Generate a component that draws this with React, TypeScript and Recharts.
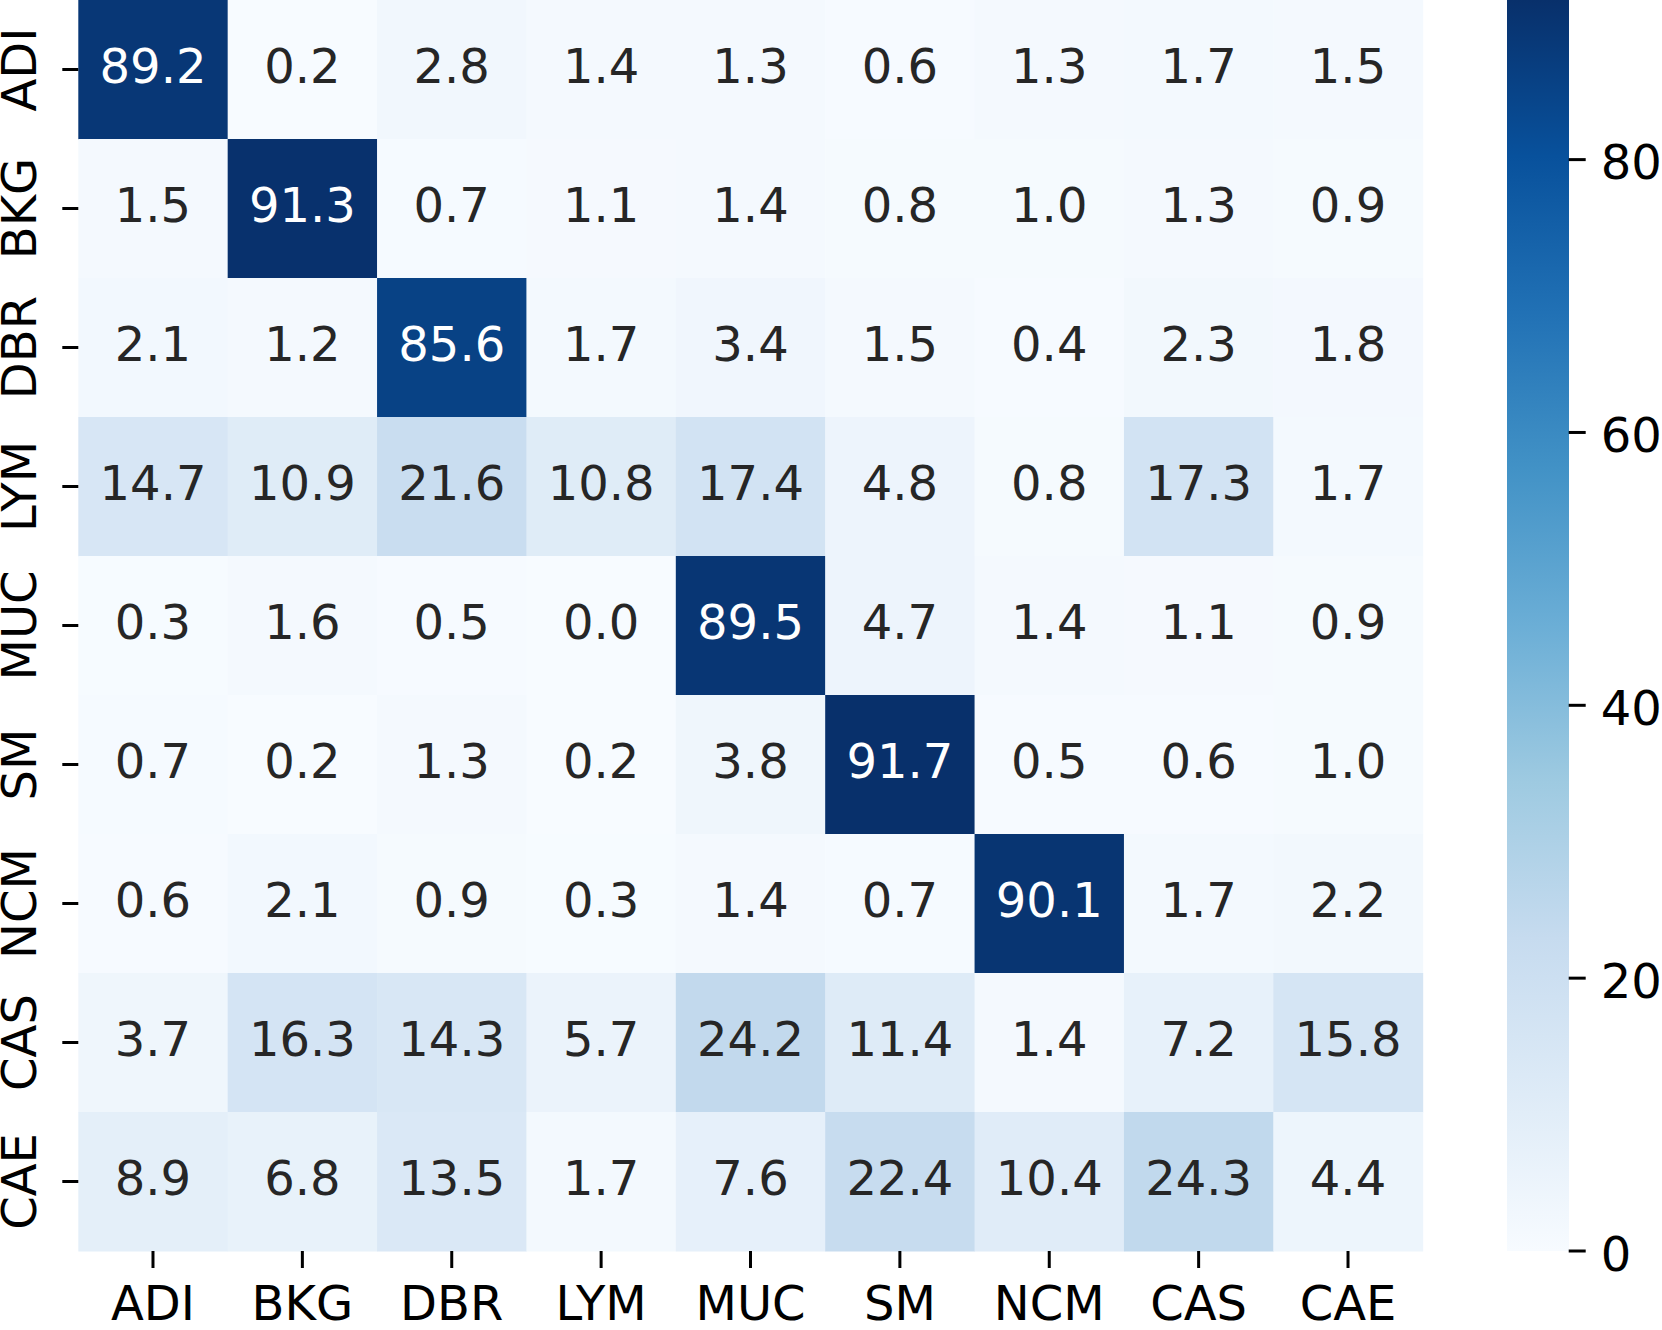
import React from "react";
import {
  ScatterChart,
  Scatter,
  XAxis,
  YAxis,
  BarChart,
  Bar,
} from "recharts";

const classes = ["ADI", "BKG", "DBR", "LYM", "MUC", "SM", "NCM", "CAS", "CAE"];

const rowADI = [89.2, 0.2, 2.8, 1.4, 1.3, 0.6, 1.3, 1.7, 1.5];
const rowBKG = [1.5, 91.3, 0.7, 1.1, 1.4, 0.8, 1.0, 1.3, 0.9];
const rowDBR = [2.1, 1.2, 85.6, 1.7, 3.4, 1.5, 0.4, 2.3, 1.8];
const rowLYM = [14.7, 10.9, 21.6, 10.8, 17.4, 4.8, 0.8, 17.3, 1.7];
const rowMUC = [0.3, 1.6, 0.5, 0.0, 89.5, 4.7, 1.4, 1.1, 0.9];
const rowSM = [0.7, 0.2, 1.3, 0.2, 3.8, 91.7, 0.5, 0.6, 1.0];
const rowNCM = [0.6, 2.1, 0.9, 0.3, 1.4, 0.7, 90.1, 1.7, 2.2];
const rowCAS = [3.7, 16.3, 14.3, 5.7, 24.2, 11.4, 1.4, 7.2, 15.8];
const rowCAE = [8.9, 6.8, 13.5, 1.7, 7.6, 22.4, 10.4, 24.3, 4.4];

const matrix = [rowADI, rowBKG, rowDBR, rowLYM, rowMUC, rowSM, rowNCM, rowCAS, rowCAE];

const colorbarTicks = [0, 20, 40, 60, 80];

// matplotlib "Blues"
const blues = [
  "#f7fbff", "#deebf7", "#c6dbef", "#9ecae1", "#6baed6",
  "#4292c6", "#2171b5", "#08519c", "#08306b",
];

const VMIN = 0;
const VMAX = Math.max(...matrix.flat());
const FONT = "DejaVu Sans";

// plot geometry
const PLOT_LEFT = 78.3;
const PLOT_RIGHT = 1422.7;
const PLOT_BOTTOM = 1251;
const CELL_W = (PLOT_RIGHT - PLOT_LEFT) / classes.length;
const CELL_H = PLOT_BOTTOM / classes.length;

function hexToRgb(h: string) {
  return [1, 3, 5].map((i) => parseInt(h.slice(i, i + 2), 16));
}

function bluesColor(v: number) {
  const t = Math.min(1, Math.max(0, (v - VMIN) / (VMAX - VMIN))) * (blues.length - 1);
  const i = Math.min(blues.length - 2, Math.floor(t));
  const f = t - i;
  const a = hexToRgb(blues[i]);
  const b = hexToRgb(blues[i + 1]);
  const c = a.map((x, k) => Math.round(x + (b[k] - x) * f));
  return { css: `rgb(${c[0]},${c[1]},${c[2]})`, rgb: c };
}

function luminance(rgb: number[]) {
  const lin = rgb.map((c) => {
    const s = c / 255;
    return s <= 0.03928 ? s / 12.92 : Math.pow((s + 0.055) / 1.055, 2.4);
  });
  return 0.2126 * lin[0] + 0.7152 * lin[1] + 0.0722 * lin[2];
}

const cells = matrix.flatMap((row, i) =>
  row.map((v, j) => ({ x: j + 0.5, y: i + 0.5, v }))
);
const tickPos = classes.map((_, i) => i + 0.5);

function Cell(props: any) {
  const { cx, cy, payload } = props;
  const col = bluesColor(payload.v);
  const txt = luminance(col.rgb) > 0.408 ? "#262626" : "#ffffff";
  return (
    <g>
      <rect
        x={cx - CELL_W / 2}
        y={cy - CELL_H / 2}
        width={CELL_W + 0.5}
        height={CELL_H + 0.5}
        fill={col.css}
      />
      <text
        x={cx}
        y={cy + 13.5}
        textAnchor="middle"
        fontFamily={FONT}
        fontSize={48}
        fill={txt}
      >
        {payload.v.toFixed(1)}
      </text>
    </g>
  );
}

function XTick(props: any) {
  const { x, y, payload } = props;
  return (
    <g>
      <line x1={x} x2={x} y1={y} y2={y + 17} stroke="#000" strokeWidth={3} />
      <text x={x} y={y + 69} textAnchor="middle" fontFamily={FONT} fontSize={48} fill="#000">
        {classes[Math.floor(payload.value)]}
      </text>
    </g>
  );
}

function YTick(props: any) {
  const { x, y, payload } = props;
  const tx = x - 42.3;
  return (
    <g>
      <line x1={x - 16} x2={x} y1={y} y2={y} stroke="#000" strokeWidth={3} />
      <text
        x={tx}
        y={y}
        transform={`rotate(-90, ${tx}, ${y})`}
        textAnchor="middle"
        fontFamily={FONT}
        fontSize={48}
        fill="#000"
      >
        {classes[Math.floor(payload.value)]}
      </text>
    </g>
  );
}

function CbarTick(props: any) {
  const { x, y, payload } = props;
  return (
    <g>
      <line x1={x} x2={x + 17} y1={y} y2={y} stroke="#000" strokeWidth={3} />
      <text x={x + 32} y={y + 19.5} textAnchor="start" fontFamily={FONT} fontSize={48} fill="#000">
        {payload.value}
      </text>
    </g>
  );
}

const cbarData = [{ name: "cbar", v: VMAX }];

export default function App() {
  return (
    <div style={{ position: "relative", width: 1662, height: 1330, background: "#fff" }}>
      <style>{"body{margin:0}"}</style>
      <div style={{ position: "absolute", left: 0, top: 0 }}>
        <ScatterChart
          width={1470}
          height={1330}
          margin={{ top: 0, right: 1470 - PLOT_RIGHT, bottom: 0, left: 0 }}
        >
          <XAxis
            type="number"
            dataKey="x"
            domain={[0, 9]}
            ticks={tickPos}
            interval={0}
            height={1330 - PLOT_BOTTOM}
            axisLine={false}
            tickLine={false}
            tickSize={0}
            tickMargin={0}
            tick={<XTick />}
          />
          <YAxis
            type="number"
            dataKey="y"
            domain={[0, 9]}
            reversed
            ticks={tickPos}
            interval={0}
            width={PLOT_LEFT}
            axisLine={false}
            tickLine={false}
            tickSize={0}
            tickMargin={0}
            tick={<YTick />}
          />
          <Scatter data={cells} shape={<Cell />} isAnimationActive={false} />
        </ScatterChart>
      </div>
      <div style={{ position: "absolute", left: 1507, top: 0 }}>
        <BarChart
          width={155}
          height={1330}
          data={cbarData}
          margin={{ top: 0, right: 0, bottom: 1330 - PLOT_BOTTOM, left: 0 }}
          barCategoryGap={0}
          barGap={0}
        >
          <defs>
            <linearGradient id="cbarGrad" x1="0" y1="1" x2="0" y2="0">
              {blues.map((c, i) => (
                <stop key={c} offset={i / (blues.length - 1)} stopColor={c} />
              ))}
            </linearGradient>
          </defs>
          <XAxis dataKey="name" hide />
          <YAxis
            orientation="right"
            type="number"
            domain={[0, VMAX]}
            allowDataOverflow
            ticks={colorbarTicks}
            width={155 - 61.7}
            axisLine={false}
            tickLine={false}
            tickSize={0}
            tickMargin={0}
            tick={<CbarTick />}
          />
          <Bar dataKey="v" fill="url(#cbarGrad)" isAnimationActive={false} />
        </BarChart>
      </div>
    </div>
  );
}
